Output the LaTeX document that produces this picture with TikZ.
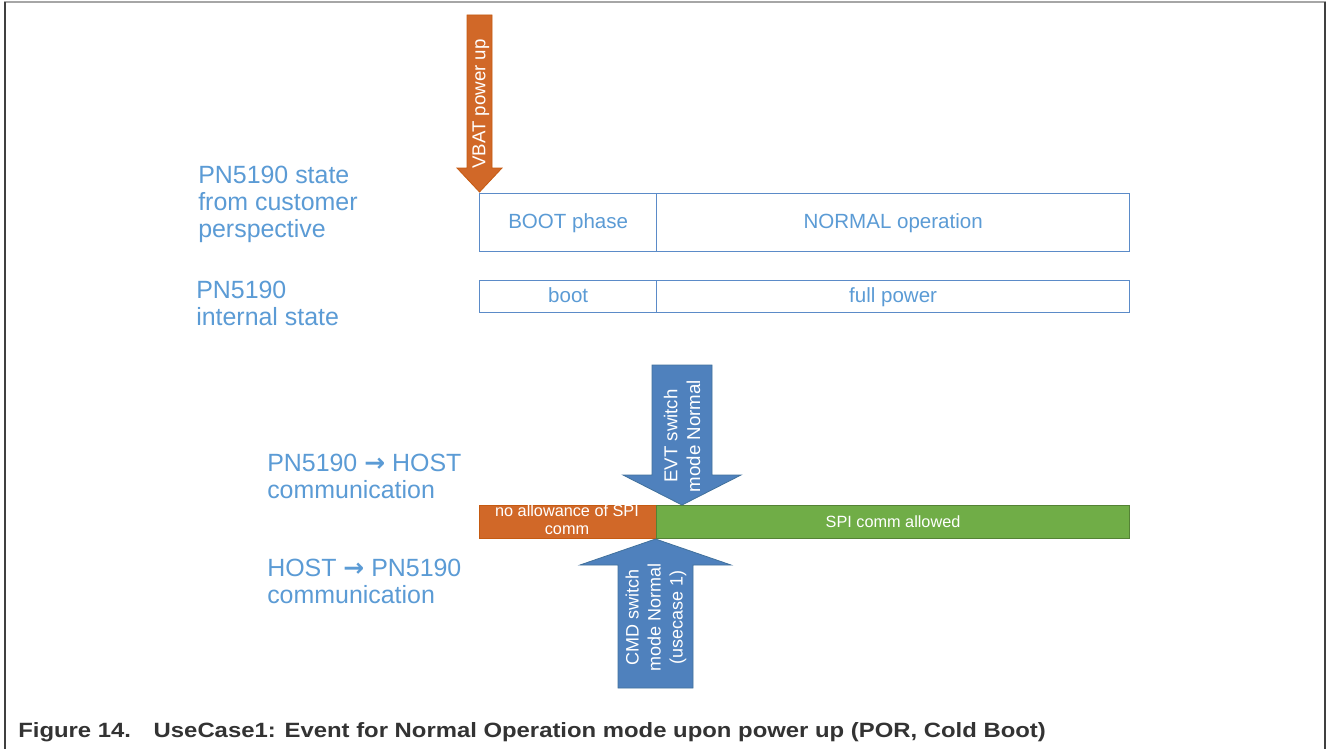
\documentclass[tikz,border=0pt]{standalone}
\usepackage{fontspec}
\setmainfont{Liberation Sans}
\newfontfamily\arrowfont{DejaVu Sans}
\definecolor{txtblue}{HTML}{5B9BD5}
\definecolor{boxline}{HTML}{5B8BC8}
\definecolor{orangeA}{HTML}{D16828}
\definecolor{orangeL}{HTML}{C55A11}
\definecolor{blueA}{HTML}{4F81BD}
\definecolor{blueL}{HTML}{41719C}
\definecolor{greenA}{HTML}{70AD47}
\definecolor{greenL}{HTML}{548235}
\definecolor{captxt}{HTML}{333333}
\newcommand{\thickarr}{{\arrowfont\bfseries →}}
\begin{document}
\begin{tikzpicture}[x=0.75pt,y=-0.75pt,
  lbl/.style={anchor=base west, inner sep=0pt, align=left, text=txtblue,
     font=\fontsize{18.7}{20.25}\selectfont},
  statebox/.style={draw=boxline, line width=1pt, fill=white, inner sep=0pt,
     anchor=north west, text=txtblue, font=\fontsize{15.4}{17}\selectfont,
     text height=1.9ex, text depth=0.3ex},
  barbox/.style={inner sep=0pt, anchor=north west, text=white,
     font=\fontsize{12.2}{13.5}\selectfont, align=center},
  arrowtxt/.style={rotate=90, text=white, align=center, inner sep=0pt}]
\useasboundingbox (0,0) rectangle (1328,749);
\fill[white] (0,0) rectangle (1328,749);
% frame
\draw[gray!70, line width=1.5pt] (4,2) -- (1326,2);
\draw[black!75, line width=1pt] (5,2) -- (5,749);
\draw[black!75, line width=1pt] (1325,2) -- (1325,749);

% left labels (anchor base = last line baseline)
\node[lbl] (l1) at (198,237) {PN5190 state\\from customer\\perspective};
\node[lbl] (l2) at (196,325) {PN5190\\internal state};
\node[lbl] (l3) at (267,498) {PN5190 \thickarr{} HOST\\communication};
\node[lbl] (l4) at (267,603) {HOST \thickarr{} PN5190\\communication};

% state boxes
\node[statebox, minimum width=132.75pt, minimum height=43.5pt] (boot1) at (479,193) {BOOT phase};
\node[statebox, minimum width=354.75pt, minimum height=43.5pt] (norm1) at (656,193) {NORMAL operation};
\node[statebox, minimum width=132.75pt, minimum height=24pt] (boot2) at (479,280) {boot};
\node[statebox, minimum width=354.75pt, minimum height=24pt] (norm2) at (656,280) {full power};

% SPI bar
\node[barbox, fill=orangeA, draw=orangeL, line width=0.8pt, minimum width=132.75pt, minimum height=24.75pt] (nospi) at (479,505) {};
\node[text=white, font=\fontsize{12.2}{13.5}\selectfont, align=center, inner sep=0pt] (nospitxt) at (567,520) {no allowance of SPI\\comm};
\node[barbox, fill=greenA, draw=greenL, line width=0.8pt, minimum width=354.75pt, minimum height=24.75pt] (spi) at (656,505) {SPI comm allowed};

% VBAT arrow
\fill[orangeA, draw=orangeL, line width=0.6pt] (467,15) -- (492,15) -- (492,168) -- (502,168) -- (479.5,192) -- (457,168) -- (467,168) -- cycle;
\node[arrowtxt, font=\fontsize{14}{16}\selectfont] (vbat) at (481,104) {VBAT power up};

% EVT arrow
\fill[blueA, draw=blueL, line width=0.6pt] (652,365) -- (712,365) -- (712,475) -- (741,475) -- (682,505) -- (623,475) -- (652,475) -- cycle;
\node[arrowtxt, font=\fontsize{14}{17}\selectfont] (evt) at (682,436) {EVT switch\\mode Normal};

% CMD arrow
\fill[blueA, draw=blueL, line width=0.6pt] (618,688) -- (693,688) -- (693,565) -- (731,565) -- (655.5,539) -- (580,565) -- (618,565) -- cycle;
\node[arrowtxt, font=\fontsize{13.5}{16.5}\selectfont] (cmd) at (656,617) {CMD switch\\mode Normal\\(usecase 1)};

% caption
\node[anchor=base west, inner sep=0pt, text=captxt, xscale=1.155, font=\bfseries\fontsize{15.5}{18}\selectfont] (cap) at (18,737) {Figure 14.\hspace{0.95em}UseCase1: Event for Normal Operation mode upon power up (POR, Cold Boot)};
\end{tikzpicture}
\end{document}
